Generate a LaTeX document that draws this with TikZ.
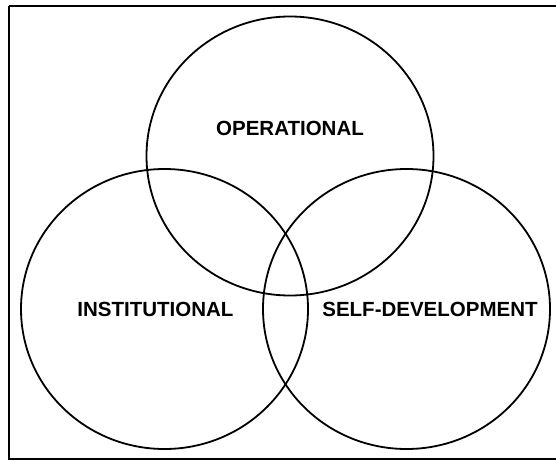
\documentclass[tikz,border=0pt]{standalone}
\usepackage{fontspec}
\setmainfont{Liberation Sans}
\begin{document}
\begin{tikzpicture}[x=1pt,y=-1pt,
  frame/.style={draw=black,line width=2pt},
  ring/.style={draw=black,line width=1.8pt},
  lbl/.style={font=\fontsize{20.5}{24}\selectfont\bfseries,inner sep=0pt,text=black}]
\useasboundingbox (0,0) rectangle (556,460);
\draw[frame] (8.5,6) -- (560,6) (8.5,6) -- (8.5,458.5) -- (560,458.5);
\coordinate (ctop) at (290,156);
\coordinate (cleft) at (164.5,309);
\coordinate (cright) at (406.5,309);
\draw[ring] (ctop) ellipse [x radius=143.5, y radius=139.5];
\draw[ring] (cleft) ellipse [x radius=143.5, y radius=140];
\draw[ring] (cright) ellipse [x radius=143.5, y radius=140];
\node[lbl] (op) at (290,128.5) {OPERATIONAL};
\node[lbl] (inst) at (155.5,309.5) {INSTITUTIONAL};
\node[lbl] (self) at (430,309) {SELF-DEVELOPMENT};
\end{tikzpicture}
\end{document}
